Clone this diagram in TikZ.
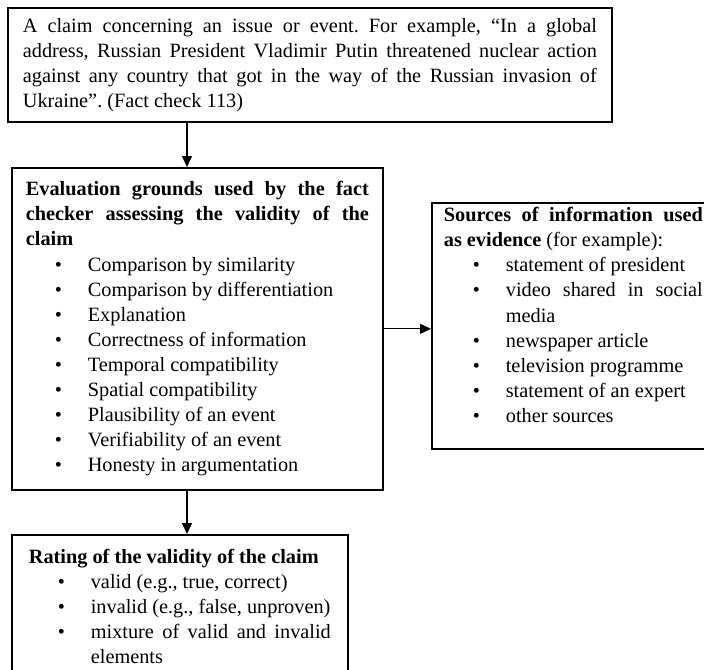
\documentclass[tikz,border=0pt]{standalone}
\usepackage{fontspec}
\setmainfont{Liberation Serif}
\usetikzlibrary{arrows.meta}

\newcommand{\bitem}{\par\hangindent=31pt\hangafter=1\noindent\makebox[31pt][l]{\hspace{14.5pt}\textbullet}\ignorespaces}

\begin{document}
\begin{tikzpicture}[
            x=0.5pt, y=-0.5pt,
            every node/.style={font=\fontsize{10.15}{12.55}\selectfont\frenchspacing},
            box/.style={draw, line width=0.85pt, align=justify, inner ysep=2pt, anchor=north west,
                execute at begin node=\setlength{\parindent}{0pt}},
            arr/.style={-{Triangle[width=5pt,length=5.5pt]}, line width=0.6pt}
        ]
          \useasboundingbox (0,0) rectangle (704,669);
          \coordinate (axis) at (187,0);
          \node[box, text width=287pt, inner xsep=7.5pt, minimum height=57pt] (claim) at (7,7)
            {A claim concerning an issue or event. For example, “In a global\linebreak
             address, Russian President Vladimir Putin threatened nuclear action\linebreak
             against any country that got in the way of the Russian invasion of\linebreak
             Ukraine”. (Fact check 113)\par};
          \node[box, text width=171.5pt, inner xsep=7pt, minimum height=161pt] (grounds) at (11,167)
            {\textbf{Evaluation grounds used by the fact checker assessing the validity of the claim}
             \bitem Comparison by similarity
             \bitem Comparison by differentiation
             \bitem Explanation
             \bitem Correctness of information
             \bitem Temporal compatibility
             \bitem Spatial compatibility
             \bitem Plausibility of an event
             \bitem Verifiability of an event
             \bitem Honesty in argumentation\par};
          \node[box, text width=129.5pt, inner xsep=6pt, minimum height=123pt] (sources) at (431,202)
            {\textbf{Sources of information used\linebreak as evidence} (for example):
             \bitem statement of president
             \bitem video shared in social media
             \bitem newspaper article
             \bitem television programme
             \bitem statement of an expert
             \bitem other sources\rule[-11pt]{0pt}{11pt}\par};
          \node[box, text width=151pt, inner xsep=8.5pt, inner ysep=7pt] (rating) at (11,534)
            {\textbf{Rating of the validity of the claim}
             \bitem valid (e.g., true, correct)
             \bitem invalid (e.g., false, unproven)
             \bitem mixture of valid and invalid elements\par};
          \draw[arr] (claim.south -| axis) -- (grounds.north -| axis);
          \draw[arr] (grounds.south -| axis) -- (rating.north -| axis);
          \draw[arr] (grounds.east) -- (sources.west |- grounds.east);
        \end{tikzpicture}
\end{document}
